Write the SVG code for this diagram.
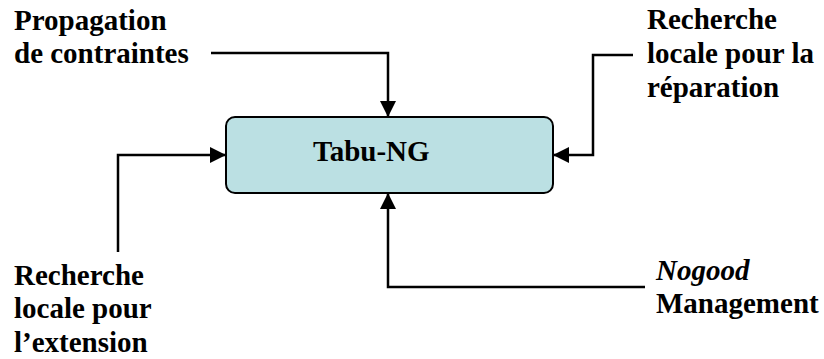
<svg xmlns="http://www.w3.org/2000/svg" width="824" height="359" viewBox="0 0 824 359">
<style>
.lbl{font-family:"Liberation Serif","Times New Roman",serif;font-weight:bold;font-size:29px;fill:#000}
.it{font-style:italic}
.conn{fill:none;stroke:#000;stroke-width:2.5}
</style>
<defs>
<marker id="ah" markerUnits="userSpaceOnUse" viewBox="0 0 16 16" refX="16" refY="8" markerWidth="16" markerHeight="16" orient="auto">
<path d="M0,0 L16,8 L0,16 Z" fill="#000"/>
</marker>
</defs>
<rect width="824" height="359" fill="#fff"/>
<g id="tabu-ng">
<rect x="226" y="117" width="327" height="76" rx="9" fill="#BBE0E3" stroke="#000" stroke-width="2"/>
<text class="lbl" x="313" y="161">Tabu-NG</text>
</g>
<g id="propagation">
<text class="lbl" x="14" y="30">Propagation</text>
<text class="lbl" x="14" y="63">de contraintes</text>
</g>
<g id="recherche-reparation">
<text class="lbl" x="647" y="29">Recherche</text>
<text class="lbl" x="647" y="63">locale pour la</text>
<text class="lbl" x="647" y="97">réparation</text>
</g>
<g id="recherche-extension">
<text class="lbl" x="14" y="285">Recherche</text>
<text class="lbl" x="14" y="318">locale pour</text>
<text class="lbl" x="14" y="352">l’extension</text>
</g>
<g id="nogood">
<text class="lbl it" x="656" y="280">Nogood</text>
<text class="lbl" x="656" y="313">Management</text>
</g>
<g id="connectors">
<path class="conn" d="M211,53 H388 V117" marker-end="url(#ah)"/>
<path class="conn" d="M118,252 V155 H226" marker-end="url(#ah)"/>
<path class="conn" d="M633,55 H593 V155 H553" marker-end="url(#ah)"/>
<path class="conn" d="M645,287 H388 V193" marker-end="url(#ah)"/>
</g>
</svg>
